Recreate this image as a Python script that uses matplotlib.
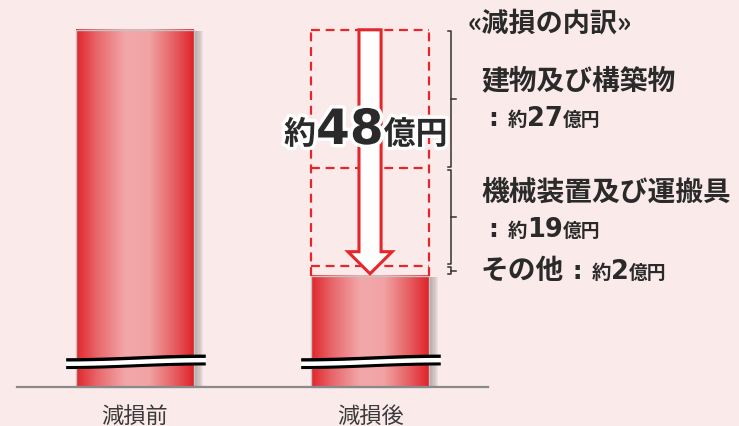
import numpy as np
import matplotlib
matplotlib.use('Agg')
import matplotlib.pyplot as plt
from matplotlib.colors import LinearSegmentedColormap
from matplotlib.patches import Polygon, Rectangle
import matplotlib.patheffects as pe

plt.rcParams['font.family'] = ['Noto Sans CJK JP', 'DejaVu Sans']

# --- データ（表示上の高さ：軸は途中で省略） ---
categories = ['減損前', '減損後']
bar_heights = [69.7, 21.7]
impairment = 48
breakdown_labels = ['建物及び構築物', '機械装置及び運搬具', 'その他']
breakdown_values = [27, 19, 2]

BG = '#fbeaea'
RED = '#e5262b'
TXT = '#2a2a2a'
JP = ['Noto Sans CJK JP', 'DejaVu Sans']
NUM = ['DejaVu Sans']
W, H = 739, 427

fig = plt.figure(figsize=(W / 100, H / 100), dpi=100)
fig.patch.set_facecolor(BG)
ax = fig.add_axes([0, 0, 1, 1])
ax.set_facecolor(BG)
ax.axis('off')

xpos = np.arange(len(categories))
bw = 0.5

cmap = LinearSegmentedColormap.from_list('cyl', [
    (0.0, '#e0262c'), (0.18, '#e8676b'), (0.42, '#f2a8a9'),
    (0.62, '#f1a3a4'), (0.85, '#e6595d'), (1.0, '#df2329')])
grad = np.linspace(0, 1, 256).reshape(1, -1)

for x, h in zip(xpos, bar_heights):
    x0 = x - bw / 2
    # 影
    for k in range(8):
        ax.add_patch(Rectangle((x0 + bw, 0), 0.005 * (k + 1), h - 0.3,
                               facecolor='#555555', alpha=0.07, edgecolor='none', zorder=1))
    ax.imshow(grad, extent=[x0, x0 + bw, 0, h], cmap=cmap, aspect='auto', zorder=2)
    ax.add_patch(Rectangle((x0, 0), bw, h, facecolor='none', edgecolor='#c4c4c4',
                           lw=1.0, zorder=3))
    # 省略線
    t = np.linspace(0, 1, 120)
    xs = x0 - 0.043 + t * (bw + 0.094)
    c = 4.9 - 0.35 * np.cos(np.pi * t)
    ax.fill_between(xs, c - 0.6, c + 0.6, color='white', zorder=5, lw=0)
    ax.plot(xs, c + 0.75, color='black', lw=2.4, zorder=5, solid_capstyle='butt')
    ax.plot(xs, c - 0.75, color='black', lw=2.2, zorder=5, solid_capstyle='butt')

# 横軸
ax.plot([-0.503, 1.5], [0, 0], color='#8a8a8a', lw=1.6, zorder=4)

for x, lab in zip(xpos, categories):
    ax.text(x, -6.8, lab, ha='center', va='baseline', fontsize=16, color='#3a3a3a')

# 減損内訳の破線枠
x0 = xpos[1] - bw / 2
x1 = xpos[1] + bw / 2
top = bar_heights[0]
bounds = top - np.cumsum([0] + breakdown_values)
dash = dict(color=RED, lw=1.6, ls=(0, (4, 2.6)), zorder=4)
for b in bounds[:-1]:
    ax.plot([x0, x1], [b, b], **dash)
ax.plot([x0, x0], [bounds[-1], top], **dash)
ax.plot([x1, x1], [bounds[-1], top], **dash)

# 矢印
xc = xpos[1]
sw, hw = 0.047, 0.094
tip = bar_heights[1] + 0.4
hl = 4.3
arrow = Polygon([(xc - sw, top), (xc + sw, top), (xc + sw, tip + hl), (xc + hw, tip + hl),
                 (xc, tip), (xc - hw, tip + hl), (xc - sw, tip + hl)],
                closed=True, facecolor='white', edgecolor=RED, lw=2.2, zorder=6)
ax.add_patch(arrow)

# 中括弧
xb = 1.345
for a, b in zip(bounds[:-1], bounds[1:]):
    ya, yb = a - 0.3, b + 0.3
    ym = (ya + yb) / 2
    ax.plot([xb - 0.015, xb, xb, xb - 0.015], [ya, ya, yb, yb], color='#333333', lw=1.1, zorder=4)
    ax.plot([xb, xb + 0.02], [ym, ym], color='#333333', lw=1.1, zorder=4)

ax.set_xlim(-0.5745, 2.570)
ax.set_ylim(-7.61, 75.71)

fig.canvas.draw()
renderer = fig.canvas.get_renderer()


def runs(x, y, parts, stroke=False):
    """ピクセル座標(左上原点)で文字列を横に並べる"""
    for s, size, fam in parts:
        t = fig.text(x / W, 1 - y / H, s, fontsize=size, fontweight='bold', color=TXT,
                     family=fam, ha='left', va='baseline', zorder=7)
        if stroke:
            t.set_path_effects([pe.withStroke(linewidth=5, foreground='white')])
        bb = t.get_window_extent(renderer)
        x += bb.width


runs(284, 145, [('約', 23, JP), (f'{impairment}', 35, NUM), ('億円', 23, JP)], stroke=True)

runs(468, 32, [('«減損の内訳»', 19.5, JP)])
runs(481, 89, [(breakdown_labels[0], 20, JP)])
runs(489, 126, [(': ', 18, NUM), ('約', 14, JP), (f'{breakdown_values[0]}', 18.5, NUM),
                ('億円', 13.5, JP)])
runs(481, 201, [(breakdown_labels[1], 20, JP)])
runs(489, 237, [(': ', 18, NUM), ('約', 14, JP), (f'{breakdown_values[1]}', 18.5, NUM),
                ('億円', 13.5, JP)])
runs(481, 279, [(breakdown_labels[2], 20, JP), (' : ', 18, NUM), ('約', 14, JP),
                (f'{breakdown_values[2]}', 18.5, NUM), ('億円', 13.5, JP)])

fig.savefig('out.png', dpi=100, facecolor=BG)
